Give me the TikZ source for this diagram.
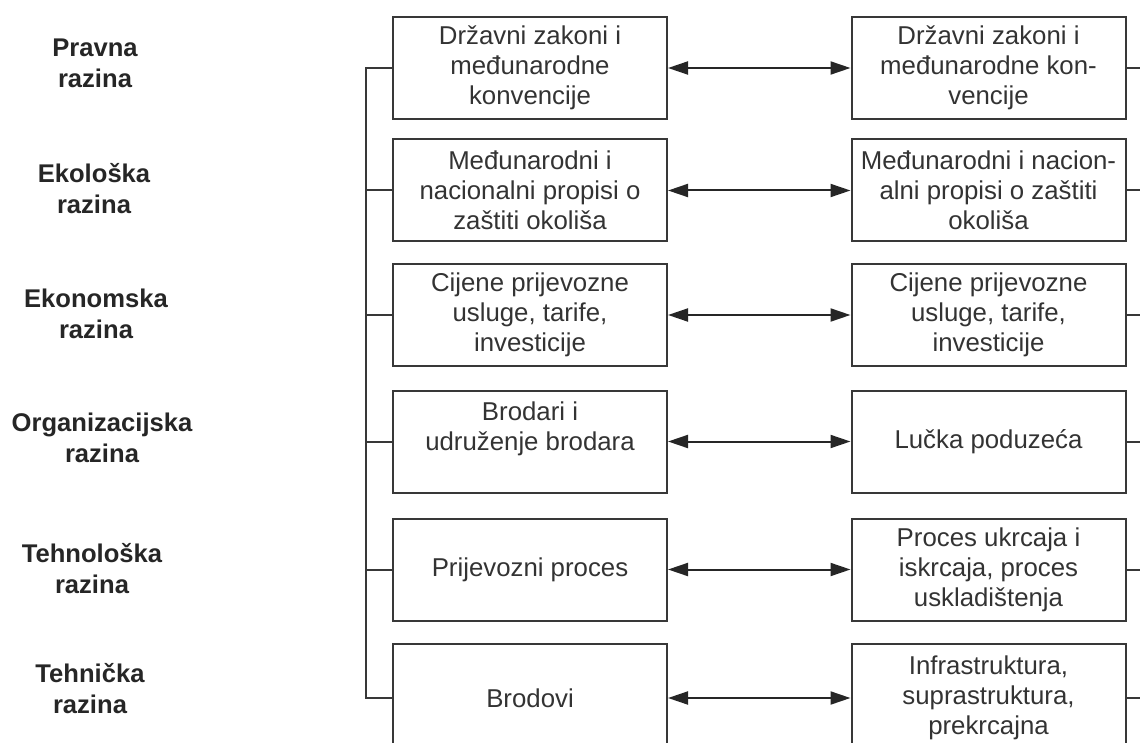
\documentclass[tikz,border=0pt]{standalone}
\usepackage{fontspec}
\setmainfont{Liberation Sans}
\usetikzlibrary{arrows.meta, positioning}

\begin{document}
\begin{tikzpicture}[
    x=0.5pt, y=-0.5pt,
    font=\fontsize{12.9}{15}\selectfont,
    okvir/.style={rectangle, draw=black!78, line width=1pt, text=black!80,
                 minimum width=137pt, minimum height=51pt, inner sep=0pt, align=center},
    razina/.style={font=\fontsize{12.8}{15.5}\selectfont\bfseries, text=black!85, align=center},
    arrow/.style={{Triangle[length=10pt,width=6.5pt]}-{Triangle[length=10pt,width=6.5pt]},
                  line width=1pt, draw=black!85},
    veza/.style={line width=1pt, draw=black!78}
]
\useasboundingbox (0,0) rectangle (1140,743);
\clip (0,0) rectangle (1140,743);

% --- Razine (lijevo) ---
\node[razina] (pravna) at (95,63) {Pravna\\razina};
\node[razina] (ekoloska) at (94,189) {Ekološka\\razina};
\node[razina] (ekonomska) at (96,314) {Ekonomska\\razina};
\node[razina] (organizacijska) at (102,438) {Organizacijska\\razina};
\node[razina] (tehnoloska) at (92,569) {Tehnološka\\razina};
\node[razina] (tehnicka) at (90,689) {Tehnička\\razina};

% --- Lijevi stupac ---
\node[okvir] (l1) at (530,68) {Državni zakoni i\\međunarodne\\konvencije};
\node[okvir] (l2) at (530,190.5) {Međunarodni i\\nacionalni propisi o\\zaštiti okoliša};
\node[okvir] (l3) at (530,315) {Cijene prijevozne\\usluge, tarife,\\investicije};
\node[okvir] (l4) at (530,441.5) {Brodari i\\udruženje brodara\\\mbox{}};
\node[okvir] (l5) at (530,569.5) {Prijevozni proces};
\node[okvir, minimum height=54pt] (l6) at (530,698) {Brodovi};

% --- Desni stupac ---
\node[okvir] (d1) at (988.5,68) {Državni zakoni i\\međunarodne kon-\\vencije};
\node[okvir] (d2) at (988.5,190.5) {Međunarodni i nacion-\\alni propisi o zaštiti\\okoliša};
\node[okvir] (d3) at (988.5,315) {Cijene prijevozne\\usluge, tarife,\\investicije};
\node[okvir] (d4) at (988.5,441.5) {Lučka poduzeća};
\node[okvir] (d5) at (988.5,569.5) {Proces ukrcaja i\\iskrcaja, proces\\uskladištenja};
\node[okvir, minimum height=54pt] (d6) at (988.5,698) {Infrastruktura,\\suprastruktura,\\prekrcajna};

% --- Strelice ---
\draw[arrow] (l1) -- (d1);
\draw[arrow] (l2) -- (d2);
\draw[arrow] (l3) -- (d3);
\draw[arrow] (l4) -- (d4);
\draw[arrow] (l5) -- (d5);
\draw[arrow] (l6) -- (d6);

% --- Lijeva zagrada ---
\draw[veza] (l1.west) -- ++(-26,0) |- (l6.west);
\draw[veza] (l2.west) -- ++(-26,0);
\draw[veza] (l3.west) -- ++(-26,0);
\draw[veza] (l4.west) -- ++(-26,0);
\draw[veza] (l5.west) -- ++(-26,0);

% --- Desni izlazi ---
\draw[veza] (d1.east) -- ++(30,0);
\draw[veza] (d2.east) -- ++(30,0);
\draw[veza] (d3.east) -- ++(30,0);
\draw[veza] (d4.east) -- ++(30,0);
\draw[veza] (d5.east) -- ++(30,0);
\draw[veza] (d6.east) -- ++(30,0);

\end{tikzpicture}
\end{document}
